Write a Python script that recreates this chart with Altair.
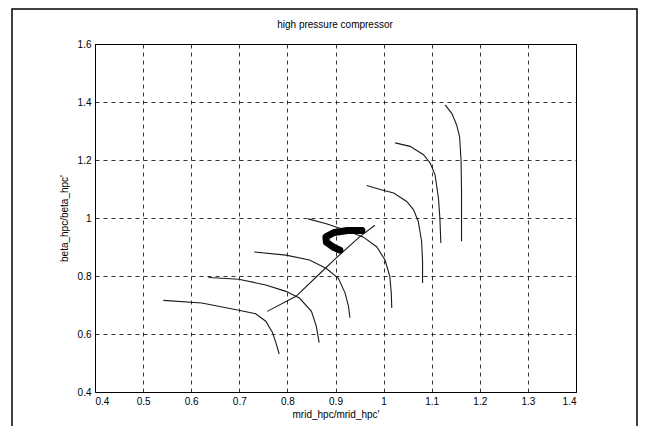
import altair as alt
import pandas as pd

# Speed lines of the high pressure compressor map
speed1_x = [0.542, 0.622, 0.699, 0.734, 0.755, 0.769, 0.776, 0.783]
speed1_y = [0.716, 0.707, 0.682, 0.670, 0.644, 0.605, 0.570, 0.531]

speed2_x = [0.636, 0.699, 0.755, 0.797, 0.825, 0.850, 0.860, 0.866]
speed2_y = [0.795, 0.789, 0.769, 0.747, 0.724, 0.678, 0.627, 0.570]

speed3_x = [0.731, 0.797, 0.846, 0.881, 0.906, 0.920, 0.927, 0.930]
speed3_y = [0.883, 0.872, 0.855, 0.826, 0.792, 0.741, 0.695, 0.656]

speed4_x = [0.843, 0.881, 0.923, 0.958, 0.986, 1.003, 1.013, 1.016, 1.017]
speed4_y = [0.997, 0.980, 0.957, 0.934, 0.900, 0.855, 0.798, 0.740, 0.690]

speed5_x = [0.965, 0.993, 1.021, 1.048, 1.062, 1.072, 1.079, 1.081, 1.081]
speed5_y = [1.112, 1.098, 1.086, 1.057, 1.029, 0.989, 0.920, 0.851, 0.776]

speed6_x = [1.024, 1.055, 1.083, 1.097, 1.107, 1.114, 1.117, 1.119]
speed6_y = [1.259, 1.247, 1.218, 1.189, 1.149, 1.069, 1.000, 0.914]

speed7_x = [1.128, 1.142, 1.152, 1.158, 1.161, 1.162, 1.162, 1.162]
speed7_y = [1.390, 1.360, 1.320, 1.280, 1.200, 1.100, 1.000, 0.920]

# operating line
op_line_x = [0.758, 0.818, 0.862, 0.900, 0.950, 0.982]
op_line_y = [0.678, 0.730, 0.800, 0.860, 0.935, 0.975]

# thick transient trace
blob_x = [0.955, 0.925, 0.897, 0.880, 0.881, 0.895, 0.909]
blob_y = [0.957, 0.957, 0.950, 0.935, 0.917, 0.900, 0.889]

x_ticks = [0.4, 0.5, 0.6, 0.7, 0.8, 0.9, 1.0, 1.1, 1.2, 1.3, 1.4]
y_ticks = [0.4, 0.6, 0.8, 1.0, 1.2, 1.4, 1.6]

title_text = "high pressure compressor"
x_title = "mrid_hpc/mrid_hpc'"
y_title = "beta_hpc/beta_hpc'"

rows = []
series = [
    ("s1", speed1_x, speed1_y), ("s2", speed2_x, speed2_y),
    ("s3", speed3_x, speed3_y), ("s4", speed4_x, speed4_y),
    ("s5", speed5_x, speed5_y), ("s6", speed6_x, speed6_y),
    ("s7", speed7_x, speed7_y), ("op", op_line_x, op_line_y),
]
for name, xs, ys in series:
    for i, (xv, yv) in enumerate(zip(xs, ys)):
        rows.append({"series": name, "i": i, "x": xv, "y": yv})
lines_df = pd.DataFrame(rows)
blob_df = pd.DataFrame({"i": list(range(len(blob_x))), "x": blob_x, "y": blob_y})

xscale = alt.Scale(domain=[0.4, 1.4], nice=False, zero=False)
yscale = alt.Scale(domain=[0.4, 1.6], nice=False, zero=False)

x_enc = alt.X("x:Q", scale=xscale,
              axis=alt.Axis(values=x_ticks, format="~g", title=x_title))
y_enc = alt.Y("y:Q", scale=yscale,
              axis=alt.Axis(values=y_ticks, format="~g", title=y_title))

lines = alt.Chart(lines_df).mark_line(color="#1a1a1a", strokeWidth=1.1).encode(
    x=x_enc, y=y_enc, detail="series:N", order="i:Q"
)

blob = alt.Chart(blob_df).mark_line(
    color="black", strokeWidth=7, strokeCap="round", strokeJoin="round"
).encode(x=alt.X("x:Q", scale=xscale), y=alt.Y("y:Q", scale=yscale), order="i:Q")

title_mark = alt.Chart(pd.DataFrame({"t": [title_text]})).mark_text(
    font="Liberation Sans", fontSize=10, color="black", baseline="middle",
    align="center"
).encode(text="t:N", x=alt.value(240), y=alt.value(-19))

frame = alt.Chart(pd.DataFrame({"a": [0]})).mark_rect(
    filled=False, stroke="black", strokeWidth=1.5
).encode(
    x=alt.value(-83), x2=alt.value(542), y=alt.value(-35), y2=alt.value(420)
)

chart = alt.layer(lines, blob, title_mark, frame).properties(
    width=481,
    height=348,
    autosize=alt.AutoSizeParams(type="none"),
    padding={"left": 87, "top": 36, "right": 62, "bottom": 34},
).configure_view(
    stroke="black", strokeWidth=1
).configure_axis(
    labelFont="Liberation Sans", labelFontSize=10, labelColor="black",
    titleFont="Liberation Sans", titleFontSize=10, titleFontWeight="normal",
    titleColor="black",
    grid=True, gridColor="black", gridDash=[4, 4], gridWidth=0.8, gridOpacity=1,
    domain=False, ticks=False, labelPadding=4,
).configure_axisY(
    titlePadding=8
).configure_axisX(
    titlePadding=3
)

chart.save("out.html", embed_options={"renderer": "svg", "actions": False})
